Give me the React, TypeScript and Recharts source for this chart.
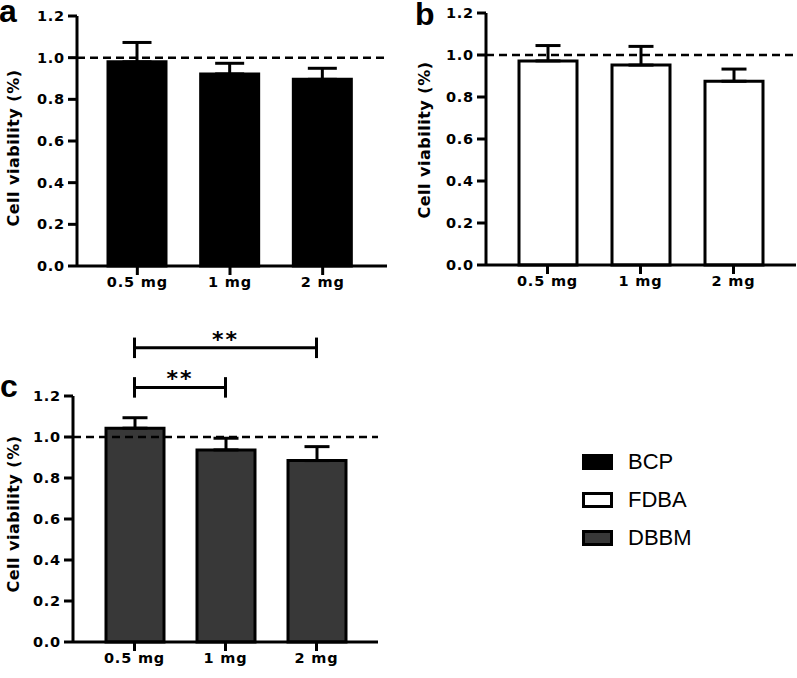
import React from 'react';
import { BarChart, Bar, XAxis, YAxis, ErrorBar, ReferenceLine, Legend, Label } from 'recharts';

const doses = ['0.5 mg', '1 mg', '2 mg'];
const bcpMean = [0.98, 0.922, 0.896];
const bcpSd = [0.093, 0.051, 0.053];
const fdbaMean = [0.972, 0.952, 0.875];
const fdbaSd = [0.073, 0.089, 0.058];
const dbbmMean = [1.043, 0.937, 0.885];
const dbbmSd = [0.051, 0.057, 0.068];
const yTicks = [0, 0.2, 0.4, 0.6, 0.8, 1.0, 1.2];
const groups = ['BCP', 'FDBA', 'DBBM'];
const control = 1.0;

// DBBM pairwise comparisons
const sigFrom = ['0.5 mg', '0.5 mg'];
const sigTo = ['2 mg', '1 mg'];
const sigLevel = [1.435, 1.242];
const sigMark = ['**', '**'];

const fills: Record<string, string> = { BCP: '#000000', FDBA: '#ffffff', DBBM: '#383838' };

const rows = (mean: number[], sd: number[]) =>
  doses.map((d, i) => ({ dose: d, mean: mean[i], err: [0, sd[i]] }));

const boldFamily = 'DejaVu Sans, Verdana, sans-serif';

const tickFont = {
  fill: '#000',
  fontFamily: boldFamily,
  fontWeight: 700,
  fontSize: 14.5,
  letterSpacing: 0.8,
};

const line = { stroke: '#000', strokeWidth: 3 };

const yLabel = (cx: number, dy: number) => (props: any) => {
  const vb = props.viewBox;
  const cy = vb.y + vb.height / 2 + dy;
  return (
    <text
      x={cx}
      y={cy}
      transform={`rotate(-90 ${cx} ${cy})`}
      textAnchor="middle"
      dominantBaseline="central"
      fill="#000"
      fontFamily={boldFamily}
      fontWeight={700}
      fontSize={16}
      letterSpacing={0.5}
    >
      Cell viability (%)
    </text>
  );
};

const letterStyle: React.CSSProperties = {
  position: 'absolute',
  fontFamily: 'Liberation Sans, Arial, sans-serif',
  fontWeight: 700,
  fontSize: 32,
  lineHeight: '22px',
};

const renderLegend = () => (
  <div style={{ fontFamily: 'Liberation Sans, Arial, sans-serif', fontSize: 22, color: '#000' }}>
    {groups.map((g) => (
      <div key={g} style={{ display: 'flex', alignItems: 'center', height: 38.2 }}>
        <svg width={31} height={16}>
          <rect x={1.5} y={1.5} width={28} height={13} fill={fills[g]} stroke="#000" strokeWidth={3} />
        </svg>
        <span style={{ marginLeft: 15 }}>{g}</span>
      </div>
    ))}
  </div>
);

function Panel(props: any) {
  const { data, fill, width, height, margin, yWidth, xHeight, pad, labelX, labelDy, cap, children } = props;
  return (
    <BarChart width={width} height={height} data={data} margin={margin} barCategoryGap={0}>
      <XAxis
        dataKey="dose"
        axisLine={line}
        tickLine={line}
        tickSize={9}
        tickMargin={2}
        tick={tickFont}
        height={xHeight}
        padding={pad}
        interval={0}
      />
      <YAxis
        type="number"
        domain={[0, 1.2]}
        ticks={yTicks}
        tickFormatter={(v: number) => v.toFixed(1)}
        axisLine={line}
        tickLine={line}
        tickSize={9}
        tickMargin={3}
        tick={tickFont}
        width={yWidth}
      >
        <Label content={yLabel(labelX, labelDy)} />
      </YAxis>
      <Bar dataKey="mean" fill={fill} stroke="#000" strokeWidth={3} barSize={58} isAnimationActive={false}>
        <ErrorBar dataKey="err" width={cap} stroke="#000" strokeWidth={3} isAnimationActive={false} />
      </Bar>
      <ReferenceLine y={control} stroke="#000" strokeWidth={2.5} strokeDasharray="8 5" />
      {children}
    </BarChart>
  );
}

export default function App() {
  return (
    <div style={{ position: 'absolute', left: 0, top: 0, width: 797, height: 678, background: '#fff' }}>
      <div style={{ position: 'absolute', left: 0, top: 0 }}>
        <Panel
          data={rows(bcpMean, bcpSd)}
          fill={fills.BCP}
          width={400}
          height={300}
          margin={{ top: 16, right: 13, bottom: 0, left: 0 }}
          yWidth={77}
          xHeight={34}
          pad={{ left: 14, right: 18 }}
          labelX={13}
          labelDy={7}
          cap={14.5}
        />
      </div>
      <div style={{ position: 'absolute', left: 400, top: 0 }}>
        <Panel
          data={rows(fdbaMean, fdbaSd)}
          fill={fills.FDBA}
          width={397}
          height={300}
          margin={{ top: 13, right: 1, bottom: 0, left: 0 }}
          yWidth={86}
          xHeight={35}
          pad={{ left: 15, right: 16 }}
          labelX={24}
          labelDy={1}
          cap={12.5}
        />
      </div>
      <div style={{ position: 'absolute', left: 0, top: 300 }}>
        <Panel
          data={rows(dbbmMean, dbbmSd)}
          fill={fills.DBBM}
          width={797}
          height={378}
          margin={{ top: 96, right: 419, bottom: 0, left: 0 }}
          yWidth={73}
          xHeight={36}
          pad={{ left: 16, right: 16 }}
          labelX={13}
          labelDy={-5}
          cap={12.5}
        >
          {sigLevel.map((lv, i) => (
            <ReferenceLine
              key={`h${i}`}
              segment={[{ x: sigFrom[i], y: lv }, { x: sigTo[i], y: lv }]}
              ifOverflow="visible"
              stroke="#000"
              strokeWidth={3}
              label={{
                value: sigMark[i],
                position: 'top',
                offset: 1,
                fill: '#000',
                fontFamily: boldFamily,
                fontWeight: 700,
                fontSize: 22,
                letterSpacing: 2,
              }}
            />
          ))}
          {sigLevel.map((lv, i) => (
            <ReferenceLine
              key={`l${i}`}
              segment={[{ x: sigFrom[i], y: lv - 0.05 }, { x: sigFrom[i], y: lv + 0.05 }]}
              ifOverflow="visible"
              stroke="#000"
              strokeWidth={3}
            />
          ))}
          {sigLevel.map((lv, i) => (
            <ReferenceLine
              key={`r${i}`}
              segment={[{ x: sigTo[i], y: lv - 0.05 }, { x: sigTo[i], y: lv + 0.05 }]}
              ifOverflow="visible"
              stroke="#000"
              strokeWidth={3}
            />
          ))}
          <Legend
            layout="vertical"
            align="center"
            verticalAlign="middle"
            content={renderLegend}
            wrapperStyle={{ position: 'absolute', left: 582, top: 143, width: 160, height: 'auto' }}
          />
        </Panel>
      </div>
      <div style={{ ...letterStyle, left: -1, top: 0 }}>a</div>
      <div style={{ ...letterStyle, left: 415, top: 3 }}>b</div>
      <div style={{ ...letterStyle, left: 0, top: 375 }}>c</div>
    </div>
  );
}
